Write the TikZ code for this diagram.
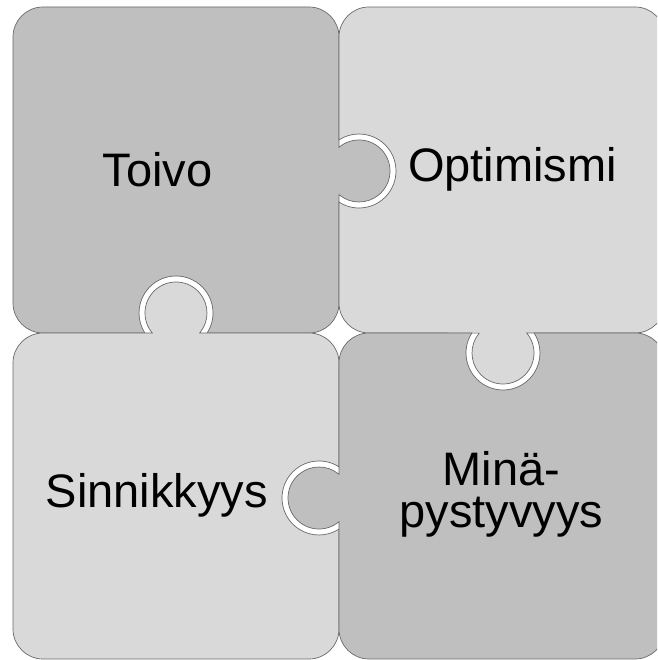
\documentclass[tikz,border=0pt]{standalone}
\usepackage{fontspec}
\setmainfont{Liberation Sans}
\definecolor{pdark}{RGB}{191,191,191}
\definecolor{plight}{RGB}{217,217,217}
\definecolor{pline}{RGB}{105,105,105}
\tikzset{
  piece/.style={draw=pline, line width=0.7pt},
  lbl/.style={anchor=base, inner sep=0pt, font=\fontsize{47}{42}\selectfont, text=black, align=center}
}
\begin{document}
\begin{tikzpicture}[x=1pt,y=1pt]
\useasboundingbox (0,0) rectangle (657,660);
\clip (0,0) rectangle (657,660);
% piece A (top-left)
\path[piece, fill=pdark] (13,623) arc[start angle=180,end angle=90,radius=30]
  -- (309,653) arc[start angle=90,end angle=0,radius=30]
  -- (339,512.69) arc[start angle=130.18,end angle=-130.18,radius=31]
  -- (339,357) arc[start angle=0,end angle=-90,radius=30]
  -- (207.13,327) arc[start angle=-32.72,end angle=212.72,radius=37]
  -- (43,327) arc[start angle=270,end angle=180,radius=30] -- cycle;
% piece B (top-right)
\path[piece, fill=plight] (369,653) -- (635,653) arc[start angle=90,end angle=0,radius=30]
  -- (665,357) arc[start angle=0,end angle=-90,radius=30]
  -- (526.69,327) arc[start angle=40.18,end angle=-219.82,radius=31]
  -- (369,327) arc[start angle=270,end angle=180,radius=30]
  -- (339,457.87) arc[start angle=-122.72,end angle=122.72,radius=37]
  -- (339,623) arc[start angle=180,end angle=90,radius=30] -- cycle;
% piece C (bottom-left)
\path[piece, fill=plight] (13,297) arc[start angle=180,end angle=90,radius=30]
  -- (152.31,327) arc[start angle=220.18,end angle=-40.18,radius=31]
  -- (309,327) arc[start angle=90,end angle=0,radius=30]
  -- (339,193.13) arc[start angle=57.28,end angle=302.72,radius=37]
  -- (339,31) arc[start angle=0,end angle=-90,radius=30]
  -- (43,1) arc[start angle=270,end angle=180,radius=30] -- cycle;
% piece D (bottom-right)
\path[piece, fill=pdark] (369,327)
  -- (471.87,327) arc[start angle=147.28,end angle=392.72,radius=37]
  -- (635,327) arc[start angle=90,end angle=0,radius=30]
  -- (665,31) arc[start angle=0,end angle=-90,radius=30]
  -- (369,1) arc[start angle=270,end angle=180,radius=30]
  -- (339,138.31) arc[start angle=-49.82,end angle=-310.18,radius=31]
  -- (339,297) arc[start angle=180,end angle=90,radius=30] -- cycle;
% labels
\node[lbl] (toivo) at (157.5,473) {Toivo};
\node[lbl] (optimismi) at (512.5,478) {Optimismi};
\node[lbl] (sinnikkyys) at (156.7,152) {Sinnikkyys};
\node[lbl] (minapysty) at (501.6,132) {Minä-\\pystyvyys};
\end{tikzpicture}
\end{document}
